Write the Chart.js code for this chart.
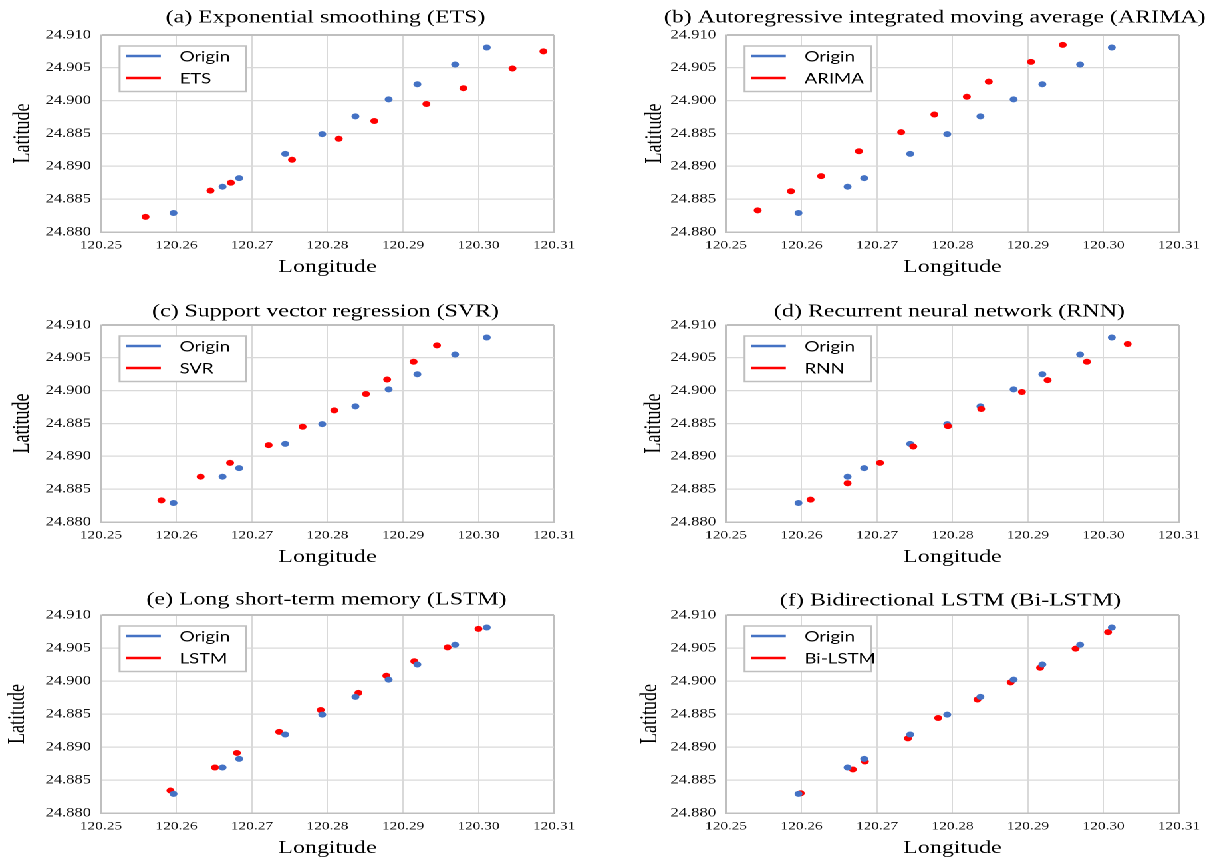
<!DOCTYPE html>
<html>
<head>
<meta charset="utf-8">
<title>Trajectory prediction comparison</title>
<script src="https://cdn.jsdelivr.net/npm/chart.js@4.4.1/dist/chart.umd.min.js"></script>
<style>
  html, body { margin: 0; padding: 0; background: #fff; overflow: hidden; }
  /* the source figure is stretched horizontally, so the whole sheet is too */
  #wrap { position: relative; width: 914px; height: 862px; transform: scaleX(1.33); transform-origin: 0 0; }
  .panel { position: absolute; }
</style>
</head>
<body>
<div id="wrap"></div>
<script>
/* ---- data ---- */
const xTickLabels = ['120.25', '120.26', '120.27', '120.28', '120.29', '120.30', '120.31'];
const yTickLabels = ['24.880', '24.885', '24.890', '24.885', '24.900', '24.905', '24.910'];

const originLon = [120.2596, 120.2661, 120.2683, 120.2744, 120.2793, 120.2837, 120.2881, 120.2919, 120.2969, 120.3011];
const originLat = [24.8829, 24.8869, 24.8882, 24.8919, 24.8949, 24.8976, 24.9002, 24.9025, 24.9055, 24.9081];

const etsLon = [120.2559, 120.2645, 120.2672, 120.2753, 120.2815, 120.2862, 120.2931, 120.2980, 120.3045, 120.3086];
const etsLat = [24.8823, 24.8863, 24.8875, 24.8910, 24.8942, 24.8969, 24.8995, 24.9019, 24.9049, 24.9075];

const arimaLon = [120.2542, 120.2586, 120.2626, 120.2676, 120.2732, 120.2776, 120.2819, 120.2848, 120.2904, 120.2946];
const arimaLat = [24.8833, 24.8862, 24.8885, 24.8923, 24.8952, 24.8979, 24.9006, 24.9029, 24.9059, 24.9085];

const svrLon = [120.2580, 120.2632, 120.2671, 120.2722, 120.2767, 120.2809, 120.2851, 120.2879, 120.2914, 120.2945];
const svrLat = [24.8833, 24.8869, 24.8890, 24.8917, 24.8945, 24.8970, 24.8995, 24.9017, 24.9044, 24.9069];

const rnnLon = [120.2612, 120.2661, 120.2704, 120.2748, 120.2794, 120.2838, 120.2892, 120.2926, 120.2978, 120.3032];
const rnnLat = [24.8834, 24.8859, 24.8890, 24.8915, 24.8946, 24.8972, 24.8998, 24.9016, 24.9044, 24.9071];

const lstmLon = [120.2592, 120.2651, 120.2680, 120.2736, 120.2791, 120.2841, 120.2878, 120.2915, 120.2959, 120.3000];
const lstmLat = [24.8834, 24.8869, 24.8891, 24.8923, 24.8956, 24.8982, 24.9008, 24.9030, 24.9051, 24.9079];

const bilstmLon = [120.2599, 120.2668, 120.2684, 120.2741, 120.2781, 120.2833, 120.2877, 120.2916, 120.2963, 120.3006];
const bilstmLat = [24.8830, 24.8866, 24.8878, 24.8913, 24.8944, 24.8972, 24.8998, 24.9020, 24.9049, 24.9074];

/* ---- look ---- */
const S = 1.33;               // horizontal stretch of the sheet
const BLUE = '#4472c4', RED = '#ff0000';
const FRAME = '#bfbfbf', GRID = '#d9d9d9';
const SERIF = '"Liberation Serif", "Times New Roman", serif';
const XAXIS_H = 46;

// box = canvas area, plot = chart area, titleAt = title centre, latX = y title centre (all in sheet px)
const panels = [
  { title: '(a) Exponential smoothing (ETS)', model: 'ETS', lon: etsLon, lat: etsLat,
    box: [0, 0, 600, 290], plot: [101, 35, 554, 232], titleAt: [325.5, 18], latX: 23 },
  { title: '(b) Autoregressive integrated moving average (ARIMA)', model: 'ARIMA', lon: arimaLon, lat: arimaLat,
    box: [600, 0, 615, 290], plot: [726, 35, 1179, 232], titleAt: [934.7, 18], latX: 655 },
  { title: '(c) Support vector regression (SVR)', model: 'SVR', lon: svrLon, lat: svrLat,
    box: [0, 290, 600, 290], plot: [101, 325, 554, 522], titleAt: [325.5, 312], latX: 22.5 },
  { title: '(d) Recurrent neural network (RNN)', model: 'RNN', lon: rnnLon, lat: rnnLat, redOnTop: true,
    box: [600, 290, 615, 290], plot: [726, 325, 1179, 522], titleAt: [949.4, 312], latX: 654 },
  { title: '(e) Long short-term memory (LSTM)', model: 'LSTM', lon: lstmLon, lat: lstmLat,
    box: [0, 580, 600, 282], plot: [101, 615, 554, 813], titleAt: [326.5, 600], latX: 17.5 },
  { title: '(f) Bidirectional LSTM (Bi-LSTM)', model: 'Bi-LSTM', lon: bilstmLon, lat: bilstmLat,
    box: [600, 580, 615, 282], plot: [726, 615, 1179, 813], titleAt: [950.4, 601], latX: 650 },
];

/* ---- small plugins: centred title and boxed legend inside the plot ---- */
const panelTitle = {
  id: 'panelTitle',
  afterDraw(chart, args, opts) {
    const ctx = chart.ctx;
    ctx.save();
    ctx.font = '18px ' + SERIF;
    ctx.fillStyle = '#000';
    ctx.textAlign = 'center';
    ctx.textBaseline = 'middle';
    ctx.fillText(opts.text, opts.x, opts.y);
    ctx.restore();
  }
};

const boxLegend = {
  id: 'boxLegend',
  afterDraw(chart, args, opts) {
    const { ctx, chartArea } = chart;
    const x = chartArea.left + opts.dx, y = chartArea.top + opts.dy;
    ctx.save();
    ctx.fillStyle = '#fff';
    ctx.fillRect(x, y, opts.w, opts.h);
    ctx.strokeStyle = FRAME;
    ctx.lineWidth = 1.5;
    ctx.strokeRect(x, y, opts.w, opts.h);
    ctx.font = '14px Lato, "Open Sans", sans-serif';
    ctx.textBaseline = 'middle';
    chart.data.datasets.forEach((ds, i) => {
      const ry = y + 10 + i * 22;
      ctx.strokeStyle = ds.backgroundColor;
      ctx.lineWidth = 2.5;
      ctx.beginPath();
      ctx.moveTo(x + 5, ry);
      ctx.lineTo(x + 31, ry);
      ctx.stroke();
      ctx.fillStyle = '#000';
      ctx.fillText(ds.label, x + 45, ry + 1);
    });
    ctx.restore();
  }
};

const pts = (lon, lat) => lon.map((v, i) => ({ x: v, y: lat[i] }));
const wrap = document.getElementById('wrap');

panels.forEach(p => {
  const [bx, by, bw, bh] = p.box;
  const [L, T, R, B] = p.plot;
  const cl = Math.round(bx / S), cw = Math.round(bw / S);

  const div = document.createElement('div');
  div.className = 'panel';
  div.style.left = cl + 'px';
  div.style.top = by + 'px';
  div.style.width = cw + 'px';
  div.style.height = bh + 'px';
  const cv = document.createElement('canvas');
  div.appendChild(cv);
  wrap.appendChild(div);

  const yAxisW = L / S - cl;
  const lastX = xTickLabels.length - 1, lastY = yTickLabels.length - 1;

  new Chart(cv, {
    type: 'scatter',
    data: {
      datasets: [{
        label: 'Origin',
        data: pts(originLon, originLat),
        backgroundColor: BLUE,
        order: 0
      }, {
        label: p.model,
        data: pts(p.lon, p.lat),
        backgroundColor: RED,
        order: p.redOnTop ? -1 : 1
      }]
    },
    options: {
      responsive: true, maintainAspectRatio: false, animation: false, devicePixelRatio: 2,
      elements: { point: { radius: 3, hoverRadius: 3, borderWidth: 0 } },
      layout: { padding: { left: 0, top: T - by, right: cw - (R / S - cl), bottom: bh - (B - by) - XAXIS_H } },
      plugins: {
        legend: { display: false },
        tooltip: { enabled: false },
        panelTitle: { text: p.title, x: p.titleAt[0] / S - cl, y: p.titleAt[1] - by },
        boxLegend: { dx: 14, dy: 11, w: 95, h: 45.5 }
      },
      scales: {
        x: {
          type: 'linear', min: 120.25, max: 120.31,
          ticks: {
            stepSize: 0.01, autoSkip: false, maxRotation: 0, padding: 6.6,
            color: '#111', font: { family: SERIF, size: 11.5 },
            callback: (v, i) => xTickLabels[i]
          },
          grid: {
            drawTicks: false,
            color: c => (c.index === lastX || c.index === 0) ? FRAME : GRID,
            lineWidth: c => c.index === lastX ? 1.5 : 1
          },
          border: { color: FRAME, width: 1.5 },
          title: { display: true, text: 'Longitude', color: '#000', font: { family: SERIF, size: 18 }, padding: { top: 0, bottom: 0 } },
          afterFit: s => { s.height = XAXIS_H; }
        },
        y: {
          type: 'linear', min: 24.88, max: 24.91,
          ticks: {
            stepSize: 0.005, padding: 7.5,
            color: '#111', font: { family: SERIF, size: 12.5 },
            callback: (v, i) => yTickLabels[i]
          },
          grid: {
            drawTicks: false,
            color: c => (c.index === lastY || c.index === 0) ? FRAME : GRID,
            lineWidth: c => c.index === lastY ? 2 : 1.2
          },
          border: { color: FRAME, width: 1.5 },
          title: { display: true, text: 'Latitude', color: '#000', font: { family: SERIF, size: 18 },
                   padding: { top: Math.max(0, p.latX / S - cl - 10.8), bottom: 0 } },
          afterFit: s => { s.width = yAxisW; }
        }
      }
    },
    plugins: [panelTitle, boxLegend]
  });
});
</script>
</body>
</html>
